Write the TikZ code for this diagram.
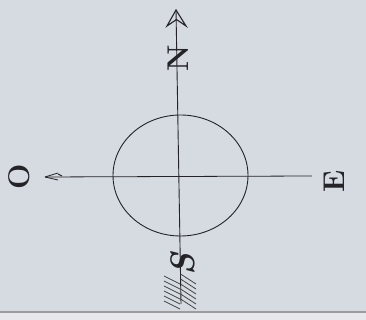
\documentclass[tikz,border=0pt]{standalone}
\usepackage{tikz}
\definecolor{paper}{RGB}{213,219,224}
\definecolor{ink}{RGB}{35,35,40}
\begin{document}
\begin{tikzpicture}[x=1pt,y=1pt,
  pen/.style={draw=ink,line width=0.9pt},
  feather/.style={draw=ink!85,line width=0.8pt},
  letter/.style={text=ink,inner sep=0pt,rotate=90,font=\fontsize{30}{30}\selectfont\bfseries}]
\useasboundingbox (0,0) rectangle (366,320);
\fill[paper] (0,0) rectangle (366,320);
\fill[paper!60!white] (0,0) rectangle (366,7);
\draw[ink!45,line width=1.5pt] (0,8) -- (366,8);
% axes
\coordinate (top) at (176,310);
\coordinate (bot) at (181,16);
\coordinate (west) at (45,143);
\coordinate (east) at (312,144);
\coordinate (c) at (180.5,144.5);
\draw[pen] (top) -- (bot);
\draw[pen,line width=0.8pt] (west) -- (east);
% circle
\draw[pen] (c) ellipse [x radius=67.5, y radius=60.5];
% north arrowhead
\draw[pen,line width=1.1pt,line join=miter] (167,294) -- (top) -- (186,294) -- (176.5,300.5) -- cycle;
% west small arrowhead
\draw[pen,line width=0.8pt] (west) -- (58,147) (west) -- (58,140);
\draw[pen,line width=1pt] (58,146) -- (62,144);
% fletching
\foreach \y in {44,39,34,29,24,19}{
  \draw[feather] (164,\y) -- (180,\y-8);
}
\foreach \y in {46,41,36,31,26,21}{
  \draw[feather] (180.5,\y) -- (196,\y-10);
}
% letters
\node[letter] (N) at (178,262) {N};
\node[letter] (E) at (334,139) {E};
\node[letter] (O) at (19,143) {O};
\node[letter,font=\fontsize{34}{34}\selectfont\itshape\bfseries] (S) at (183,56) {S};
\end{tikzpicture}
\end{document}
